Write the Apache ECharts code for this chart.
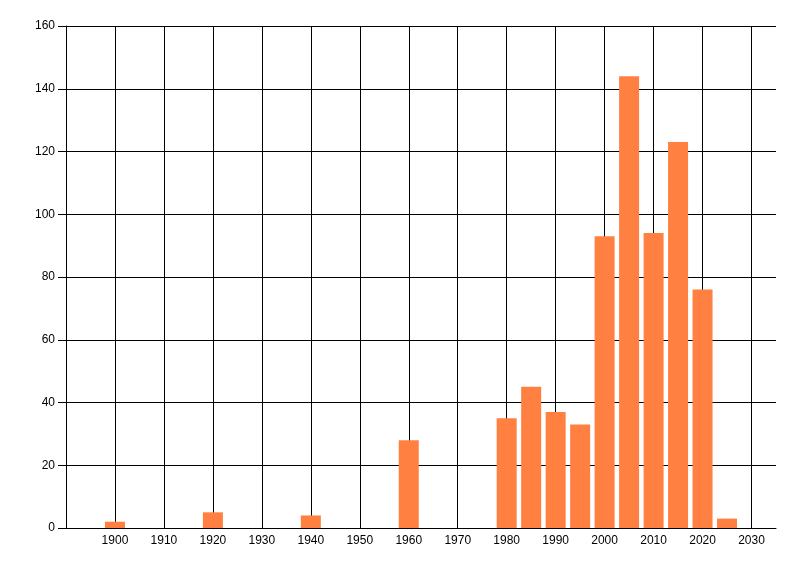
<!DOCTYPE html>
<html>
<head>
<meta charset="utf-8">
<script src="https://cdn.jsdelivr.net/npm/echarts@6/dist/echarts.min.js"></script>
<style>html,body{margin:0;padding:0;background:#fff}#c{width:800px;height:576px}</style>
</head>
<body>
<div id="c"></div>
<script>
var years = [1900, 1920, 1940, 1960, 1980, 1985, 1990, 1995, 2000, 2005, 2010, 2015, 2020, 2025];
var counts = [2, 5, 4, 28, 35, 45, 37, 33, 93, 144, 94, 123, 76, 3];
var xMin = 1890, xMax = 2035, xStep = 10;
var yMin = 0, yMax = 160, yStep = 20;

var font = "'Liberation Sans Narrow', 'Liberation Sans', Arial, sans-serif";
var chart = echarts.init(document.getElementById('c'), null, {renderer: 'canvas'});
chart.setOption({
  animation: false,
  backgroundColor: '#fff',
  grid: {left: 66, right: 24, top: 26, bottom: 48, containLabel: false},
  xAxis: {
    type: 'value', min: xMin, max: xMax, interval: xStep,
    axisLine: {show: true, lineStyle: {color: '#000', width: 1}},
    axisTick: {show: false},
    axisLabel: {color: '#000', fontSize: 12, fontFamily: font, margin: 7,
      showMinLabel: false, showMaxLabel: false,
      formatter: function (v) { return (v === xMin || v === xMax) ? '' : String(v); }},
    splitLine: {show: true, showMinLine: false, showMaxLine: false, lineStyle: {color: '#000', width: 1}}
  },
  yAxis: {
    type: 'value', min: yMin, max: yMax, interval: yStep,
    axisLine: {show: true, lineStyle: {color: '#000', width: 1}},
    axisTick: {show: true, length: 8, lineStyle: {color: '#000', width: 1}},
    axisLabel: {color: '#000', fontSize: 12, fontFamily: font, margin: 11},
    splitLine: {show: true, lineStyle: {color: '#000', width: 1}}
  },
  series: [{
    type: 'bar',
    barWidth: 20,
    itemStyle: {color: '#FF8040'},
    data: years.map(function (y, i) { return [y, counts[i]]; })
  }]
});
</script>
</body>
</html>
